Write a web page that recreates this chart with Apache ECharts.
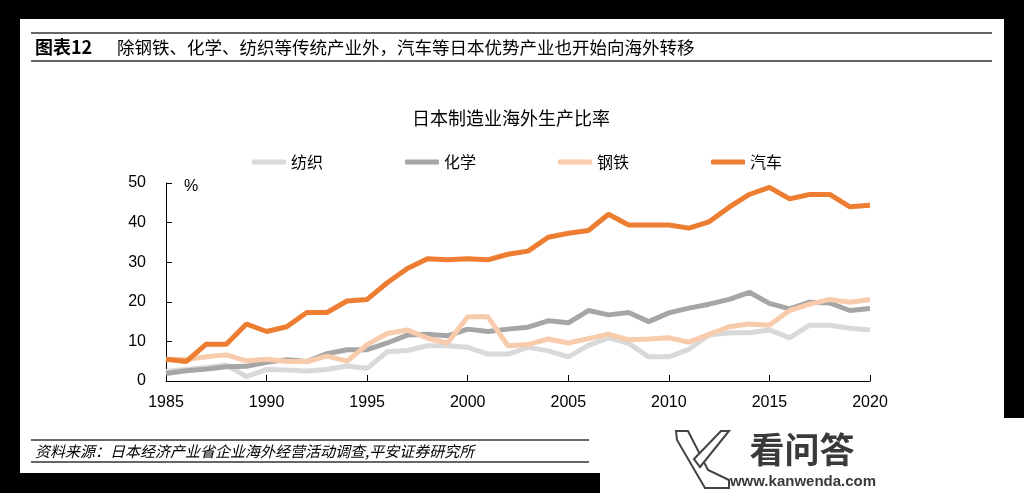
<!DOCTYPE html>
<html>
<head>
<meta charset="utf-8">
<script src="https://cdn.jsdelivr.net/npm/echarts@6/dist/echarts.min.js"></script>
<style>
  html, body { margin: 0; padding: 0; background: #000; }
  #chart { width: 1024px; height: 493px; }
</style>
</head>
<body>
<div id="chart"></div>
<script>
// 年份与各行业海外生产比率（%）
var years = [];
for (var y = 1985; y <= 2020; y++) years.push(y);

var textile = [2.4, 2.9, 3.4, 4.0, 1.1, 2.9, 2.8, 2.5, 2.9, 3.8, 3.2, 7.4, 7.7, 8.9, 8.9, 8.5, 6.8, 6.8,
  8.5, 7.6, 6.1, 9.0, 10.9, 9.5, 6.1, 6.1, 8.0, 11.6, 12.2, 12.2, 12.9, 10.9, 14.1, 14.1, 13.3, 12.9];
var chemical = [1.9, 2.6, 3.0, 3.6, 3.7, 4.7, 5.4, 4.9, 6.9, 7.9, 7.9, 9.6, 11.6, 11.8, 11.4, 13.1, 12.5, 13.1,
  13.6, 15.2, 14.7, 17.8, 16.7, 17.3, 15.0, 17.2, 18.4, 19.4, 20.6, 22.4, 19.6, 18.2, 19.9, 19.7, 17.8, 18.3];
var steel = [5.5, 5.4, 6.1, 6.6, 5.1, 5.5, 4.9, 4.9, 6.3, 5.0, 9.2, 12.0, 12.9, 10.8, 9.6, 16.2, 16.2, 8.9,
  9.2, 10.6, 9.6, 10.7, 11.8, 10.4, 10.6, 10.9, 9.8, 11.8, 13.7, 14.4, 14.1, 17.8, 19.4, 20.6, 19.9, 20.6];
var auto = [5.5, 4.9, 9.3, 9.3, 14.4, 12.5, 13.7, 17.3, 17.3, 20.2, 20.6, 24.8, 28.4, 30.9, 30.6, 30.9, 30.6, 32.0,
  32.8, 36.3, 37.3, 38.0, 42.1, 39.4, 39.4, 39.4, 38.6, 40.2, 43.9, 47.1, 48.9, 46.0, 47.1, 47.1, 44.0, 44.4];

var seriesNames = ['纺织', '化学', '钢铁', '汽车'];
var seriesColors = ['#d9d9d9', '#a6a6a6', '#f8cbad', '#ed7d31'];
var seriesValues = [textile, chemical, steel, auto];

var myChart = echarts.init(document.getElementById('chart'));

function pairs(vals) {
  return years.map(function (yr, i) { return [yr, vals[i]]; });
}

var cjk = '"Noto Sans CJK SC", sans-serif';
var latin = '"Liberation Sans", Arial, sans-serif';

var option = {
  backgroundColor: '#000',
  animation: false,
  color: seriesColors,
  title: {
    text: '日本制造业海外生产比率',
    left: 506,
    textAlign: 'center',
    top: 104,
    textStyle: { fontFamily: cjk, fontSize: 18, fontWeight: 'normal', color: '#000' }
  },
  legend: {
    data: seriesNames,
    left: 247,
    top: 149,
    itemGap: 82,
    itemWidth: 34,
    itemHeight: 5,
    icon: 'roundRect',
    textStyle: { fontFamily: cjk, fontSize: 16, color: '#000' }
  },
  grid: { left: 166, right: 154, top: 183, bottom: 112 },
  xAxis: {
    type: 'value',
    min: 1985,
    max: 2020,
    interval: 5,
    splitLine: { show: false },
    axisLine: { lineStyle: { color: '#000', width: 1 } },
    axisTick: { inside: true, length: 6, lineStyle: { color: '#000' } },
    axisLabel: {
      margin: 14, fontSize: 16, fontFamily: latin, color: '#000',
      formatter: function (v) { return String(v); }
    }
  },
  yAxis: {
    type: 'value',
    min: 0,
    max: 50,
    interval: 10,
    splitLine: { show: false },
    axisLine: { show: true, lineStyle: { color: '#000', width: 1 } },
    axisTick: { show: true, inside: true, length: 6, lineStyle: { color: '#000' } },
    axisLabel: { margin: 20, fontSize: 16, fontFamily: latin, color: '#000' }
  },
  series: seriesNames.map(function (name, i) {
    return {
      name: name,
      type: 'line',
      data: pairs(seriesValues[i]),
      showSymbol: false,
      symbol: 'none',
      lineStyle: { width: 5, color: seriesColors[i] },
      itemStyle: { color: seriesColors[i] },
      z: 2 + i
    };
  }),
  graphic: [
    // 白色卡片
    { type: 'rect', z: -10, shape: { x: 20, y: 19, width: 984, height: 454 }, style: { fill: '#fff' } },
    // 水印底
    { type: 'rect', z: -9, shape: { x: 600, y: 418, width: 424, height: 75 }, style: { fill: '#fff' } },
    // 标题线
    { type: 'line', shape: { x1: 31, y1: 33, x2: 992, y2: 33 }, style: { stroke: '#333', lineWidth: 1.5 } },
    { type: 'line', shape: { x1: 31, y1: 61, x2: 992, y2: 61 }, style: { stroke: '#333', lineWidth: 1.5 } },
    { type: 'text', x: 35, y: 47, style: { text: '图表12', fontFamily: cjk, fontSize: 18, fontWeight: 'bold', fill: '#000', textVerticalAlign: 'middle' } },
    { type: 'text', x: 117, y: 47, style: { text: '除钢铁、化学、纺织等传统产业外，汽车等日本优势产业也开始向海外转移', fontFamily: cjk, fontSize: 17.5, fill: '#000', textVerticalAlign: 'middle' } },
    // 单位
    { type: 'text', x: 184, y: 187, style: { text: '%', fontFamily: latin, fontSize: 16, fill: '#000', textVerticalAlign: 'middle' } },
    // 资料来源
    { type: 'line', shape: { x1: 31, y1: 440, x2: 589, y2: 440 }, style: { stroke: '#333', lineWidth: 1.5 } },
    { type: 'line', shape: { x1: 31, y1: 462, x2: 589, y2: 462 }, style: { stroke: '#333', lineWidth: 1.5 } },
    { type: 'text', x: 35, y: 451, style: { text: '资料来源：日本经济产业省企业海外经营活动调查,平安证券研究所', fontFamily: cjk, fontSize: 15, fontStyle: 'italic', fill: '#000', textVerticalAlign: 'middle' } },
    // 水印 logo
    { type: 'polygon', shape: { points: [[676, 431], [688, 431], [708, 470], [729, 480], [729, 488], [705, 488], [677, 440]] }, style: { fill: '#fff', stroke: '#444', lineWidth: 2 } },
    { type: 'polygon', shape: { points: [[694, 459], [721, 431], [729, 431], [700, 467]] }, style: { fill: '#fff', stroke: '#444', lineWidth: 2 } },
    { type: 'text', x: 802, y: 450, style: { text: '看问答', fontFamily: cjk, fontSize: 35, fontWeight: 'bold', fill: '#3a3a3a', textAlign: 'center', textVerticalAlign: 'middle' } },
    { type: 'text', x: 803, y: 482, style: { text: 'www.kanwenda.com', fontFamily: latin, fontSize: 15, fontWeight: 'bold', fill: '#3a3a3a', textAlign: 'center', textVerticalAlign: 'middle' } }
  ]
};

myChart.setOption(option);
</script>
</body>
</html>
